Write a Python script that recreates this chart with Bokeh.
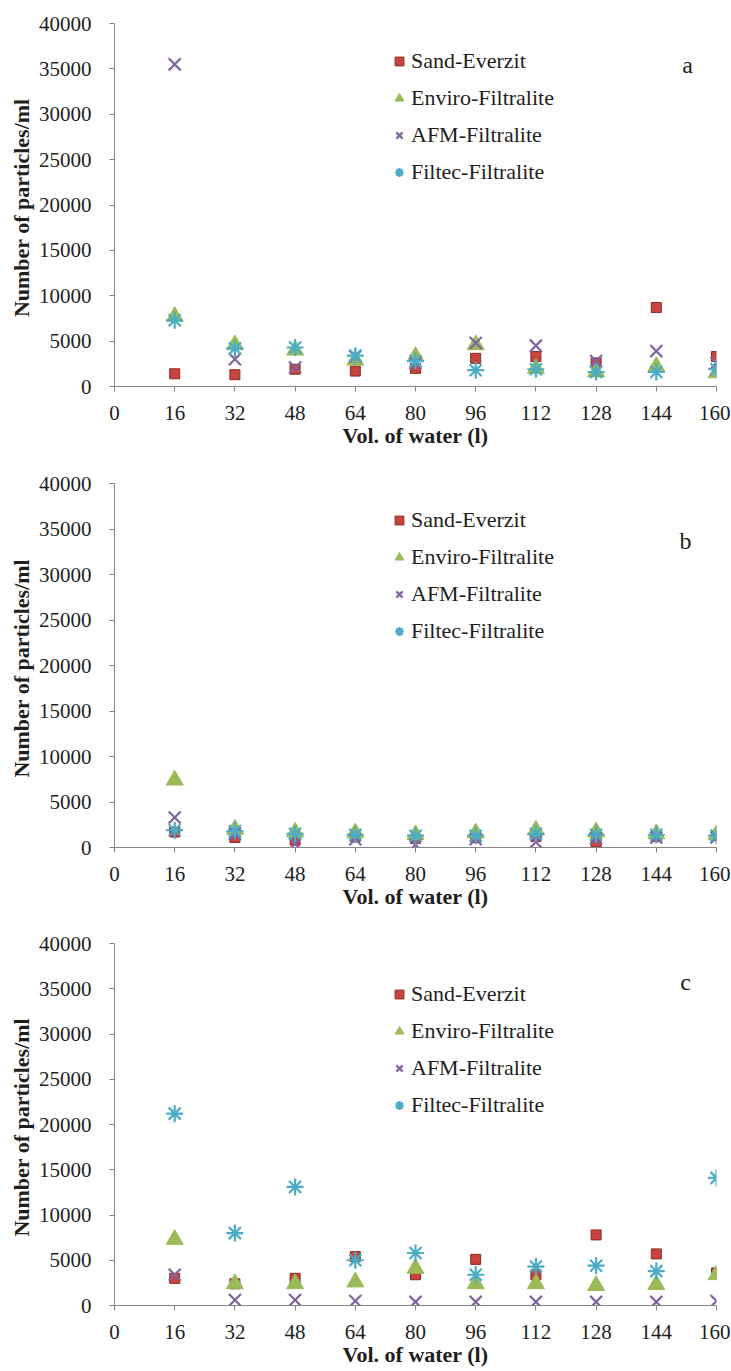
from bokeh.plotting import figure
from bokeh.layouts import column
from bokeh.models import Legend, LegendItem, Label, FixedTicker, Range1d
from bokeh.embed import file_html
from bokeh.resources import INLINE

# ---------------- data ----------------
volume = [16, 32, 48, 64, 80, 96, 112, 128, 144, 160]
x_ticks = [0, 16, 32, 48, 64, 80, 96, 112, 128, 144, 160]
y_ticks = [0, 5000, 10000, 15000, 20000, 25000, 30000, 35000, 40000]
series_names = ["Sand-Everzit", "Enviro-Filtralite", "AFM-Filtralite", "Filtec-Filtralite"]

# panel a
sand_a = [1400, 1300, 1900, 1700, 2000, 3100, 3300, 2600, 8700, 3300]
enviro_a = [7700, 4600, 4000, 2900, 3300, 4600, 2000, 1600, 2200, 1500]
afm_a = [35500, 3000, 2100, 3300, 2600, 4800, 4500, 2800, 3900, 2600]
filtec_a = [7300, 4200, 4300, 3400, 2800, 1800, 1900, 1600, 1600, 1900]

# panel b
sand_b = [1700, 1100, 800, 1200, 1000, 1100, 1200, 600, 1200, 1300]
enviro_b = [7400, 2000, 1700, 1600, 1400, 1600, 1900, 1700, 1500, 1400]
afm_b = [3300, 1500, 400, 900, 300, 900, 600, 1000, 1100, 1100]
filtec_b = [1900, 1800, 1500, 1400, 1300, 1300, 1500, 1400, 1400, 1300]

# panel c
sand_c = [3000, 2400, 3000, 5400, 3400, 5100, 3400, 7800, 5700, 3600]
enviro_c = [7300, 2400, 2400, 2600, 4100, 2400, 2400, 2200, 2300, 3400]
afm_c = [3400, 600, 600, 500, 400, 400, 400, 400, 400, 500]
filtec_c = [21200, 8000, 13100, 5000, 5800, 3400, 4300, 4400, 3800, 14100]

panel_letters = ["a", "b", "c"]

# ---------------- styling ----------------
SERIF = "Liberation Serif"
AXIS_COL = "#868686"
TEXT_COL = "#1e1e1e"
RED = "#C8443F"
GREEN = "#9BBB59"
PURPLE = "#8064A2"
CYAN = "#4BACC6"


def make_panel(sand, enviro, afm, filtec, letter, height, frame_h, legend_vy, letter_xy):
    top = 23
    bottom = height - top - frame_h
    p = figure(width=730, height=height, output_backend="svg", toolbar_location=None,
               x_range=Range1d(0, 160), y_range=Range1d(0, 40000),
               min_border_left=114, min_border_right=14,
               min_border_top=top, min_border_bottom=bottom)
    p.outline_line_color = None
    p.xgrid.visible = False
    p.ygrid.visible = False
    p.background_fill_color = "white"
    p.border_fill_color = "white"

    for ax in (p.xaxis[0], p.yaxis[0]):
        ax.axis_line_color = AXIS_COL
        ax.axis_line_width = 1
        ax.major_tick_line_color = AXIS_COL
        ax.major_tick_out = 5
        ax.major_tick_in = 0
        ax.minor_tick_line_color = None
        ax.major_label_text_font = SERIF
        ax.major_label_text_font_size = "21px"
        ax.major_label_text_color = TEXT_COL
        ax.axis_label_text_font = SERIF
        ax.axis_label_text_font_size = "22px"
        ax.axis_label_text_font_style = "bold"
        ax.axis_label_text_color = TEXT_COL

    p.xaxis.ticker = FixedTicker(ticks=x_ticks)
    p.yaxis.ticker = FixedTicker(ticks=y_ticks)
    p.xaxis.axis_label = "Vol. of water (l)"
    p.yaxis.axis_label = "Number of  particles/ml"
    p.xaxis.major_label_standoff = 14
    p.xaxis.axis_label_standoff = 0
    p.yaxis.major_label_standoff = 18
    p.yaxis.axis_label_standoff = 2

    r1 = p.scatter(volume, sand, marker="square", size=10,
                   fill_color=RED, line_color="#8a2a26", line_width=1)
    r2 = p.scatter(volume, enviro, marker="triangle", size=17,
                   fill_color=GREEN, line_color=GREEN, line_width=1)
    r3 = p.scatter(volume, afm, marker="x", size=17,
                   line_color=PURPLE, line_width=2.2)
    r4 = p.scatter(volume, filtec, marker="asterisk", size=17,
                   line_color=CYAN, line_width=2.2)

    items = [LegendItem(label=n, renderers=[r]) for n, r in zip(series_names, [r1, r2, r3, r4])]
    legend = Legend(items=items, location=(274, legend_vy), orientation="vertical",
                    glyph_width=22, glyph_height=24, label_height=24, spacing=11,
                    padding=0, margin=0, label_standoff=1,
                    border_line_color=None, background_fill_alpha=0,
                    label_text_font=SERIF, label_text_font_size="22px",
                    label_text_color=TEXT_COL)
    p.add_layout(legend)

    p.add_layout(Label(x=letter_xy[0], y=letter_xy[1], x_units="screen", y_units="screen",
                       text=letter, text_font=SERIF, text_font_size="24px",
                       text_color=TEXT_COL, text_align="center", text_baseline="middle"))
    return p


pa = make_panel(sand_a, enviro_a, afm_a, filtec_a, panel_letters[0], 460, 363, 201, (573, 322))
pb = make_panel(sand_b, enviro_b, afm_b, filtec_b, panel_letters[1], 460, 364, 203, (571, 307))
pc = make_panel(sand_c, enviro_c, afm_c, filtec_c, panel_letters[2], 449, 364, 187, (571, 324))

layout = column(pa, pb, pc, spacing=0)
open("out.html", "w").write(file_html(layout, INLINE))
